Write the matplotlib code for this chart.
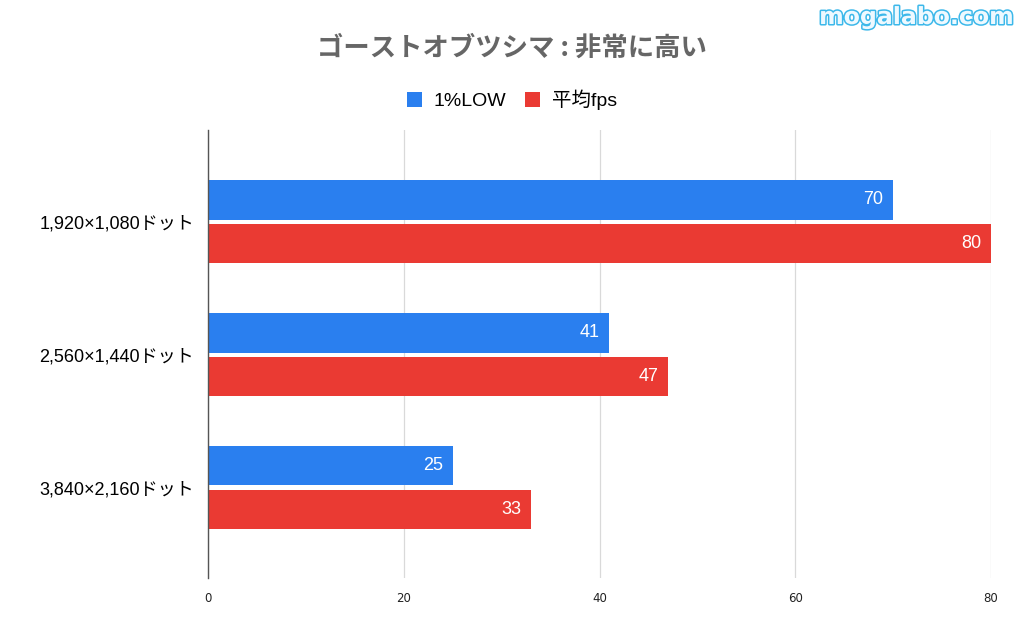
import matplotlib
matplotlib.use("Agg")
import matplotlib.pyplot as plt
import matplotlib.patheffects as pe
import numpy as np

plt.rcParams['font.family'] = ['Noto Sans CJK JP', 'DejaVu Sans']

# data
resolutions = ["1,920×1,080ドット", "2,560×1,440ドット", "3,840×2,160ドット"]
low_1pct = [70, 41, 25]
avg_fps = [80, 47, 33]
series_names = ["1%LOW", "平均fps"]
x_ticks = [0, 20, 40, 60, 80]

blue = "#2a7fef"
red = "#ea3a33"

fig = plt.figure(figsize=(10.24, 6.34), dpi=100)
ax = fig.add_axes([208 / 1024, 1 - 578 / 634, (991 - 208) / 1024, (578 - 130) / 634])

y = np.arange(len(resolutions))
h = 0.295
off = h / 2 + 0.016
b1 = ax.barh(y - off, low_1pct, height=h, color=blue, label=series_names[0], zorder=3)
b2 = ax.barh(y + off, avg_fps, height=h, color=red, label=series_names[1], zorder=3)

for bars in (b1, b2):
    for rect in bars:
        w = rect.get_width()
        ax.text(w - 1.0, rect.get_y() + rect.get_height() / 2, f"{int(w)}",
                ha='right', va='center', color='white', fontsize=13,
                family=['Liberation Sans', 'DejaVu Sans'], zorder=4)

ax.set_xlim(0, 80)
ax.set_ylim(2.68, -0.69)
ax.set_yticks(y)
ax.set_yticklabels(resolutions, fontsize=13, color='black',
                   family=['Liberation Sans', 'Noto Sans CJK JP'])
ax.set_xticks(x_ticks)
ax.set_xticklabels([str(t) for t in x_ticks], fontsize=8.5, color='#222222',
                   family='DejaVu Sans')
ax.tick_params(axis='y', length=0, pad=10)
ax.tick_params(axis='x', length=0, pad=10)
ax.grid(axis='x', color='#d9d9d9', linewidth=0.9, zorder=0)
for s in ('top', 'right', 'bottom'):
    ax.spines[s].set_visible(False)
ax.spines['left'].set_color('#555555')
ax.spines['left'].set_linewidth(1.0)
ax.spines['left'].set_zorder(5)

fig.text(0.5, 1 - 48 / 634, "ゴーストオブツシマ : 非常に高い", ha='center', va='center',
         fontsize=19, color='#666666', fontweight='bold')

fig.legend(handles=[b1, b2], labels=series_names, loc='center',
           bbox_to_anchor=(0.5, 1 - 100 / 634), ncol=2, frameon=False,
           prop={'family': ['Liberation Sans', 'Noto Sans CJK JP'], 'size': 14},
           handlelength=0.75, handleheight=0.75, columnspacing=1.0,
           handletextpad=0.6)

wm = fig.text(1 - 10 / 1024, 1 - 17 / 634, "mogalabo.com", ha='right', va='center',
              fontsize=17, fontweight='bold', color='#eef9ff', family='DejaVu Sans')
wm.set_path_effects([pe.Stroke(linewidth=2.2, foreground='#3cb8ea'), pe.Normal()])

fig.savefig("out.png", dpi=100, facecolor='white')
